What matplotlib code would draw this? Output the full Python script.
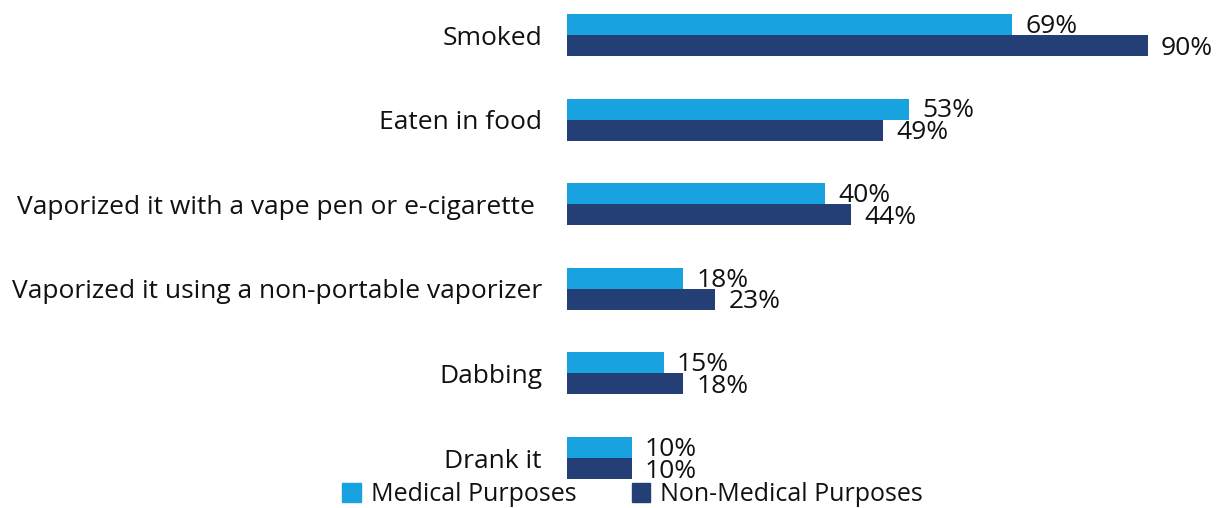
import matplotlib.pyplot as plt
from matplotlib.patches import Patch

plt.rcParams['font.family'] = ['Open Sans', 'DejaVu Sans']

categories = ["Smoked", "Eaten in food", "Vaporized it with a vape pen or e-cigarette ",
              "Vaporized it using a non-portable vaporizer", "Dabbing", "Drank it"]
medical = [69, 53, 40, 18, 15, 10]
non_medical = [90, 49, 44, 23, 18, 10]
series_names = ["Medical Purposes", "Non-Medical Purposes"]
colors = ["#19A2E0", "#233F75"]

fig = plt.figure(figsize=(12.26, 5.08), dpi=100)
ax = fig.add_axes([567 / 1226, 0, 659 / 1226, 1])

ypos = list(range(len(categories)))
h = 0.248
ax.barh([y - h / 2 for y in ypos], medical, height=h, color=colors[0])
ax.barh([y + h / 2 for y in ypos], non_medical, height=h, color=colors[1])

for y, m, n in zip(ypos, medical, non_medical):
    ax.text(m + 2.0, y - h / 2 + 0.02, f"{m}%", va="center", ha="left", fontsize=19, color="#111111")
    ax.text(n + 2.0, y + h / 2 + 0.03, f"{n}%", va="center", ha="left", fontsize=19, color="#111111")

ax.set_xlim(0, 102.1)
ax.set_ylim(5.59, -0.414)
ax.set_yticks(ypos)
ax.set_yticklabels(categories, fontsize=19, color="#111111")
ax.tick_params(axis="y", length=0, pad=18)
ax.set_xticks([])
for s in ax.spines.values():
    s.set_visible(False)

handles = [Patch(color=c, label=l) for c, l in zip(colors, series_names)]
fig.legend(handles=handles, loc="lower center", bbox_to_anchor=(0.516, -0.043), ncol=2,
           frameon=False, fontsize=18, handlelength=0.75, handleheight=0.75,
           handletextpad=0.4, columnspacing=2.2, labelcolor="#111111")

fig.savefig("out.png", dpi=100)
